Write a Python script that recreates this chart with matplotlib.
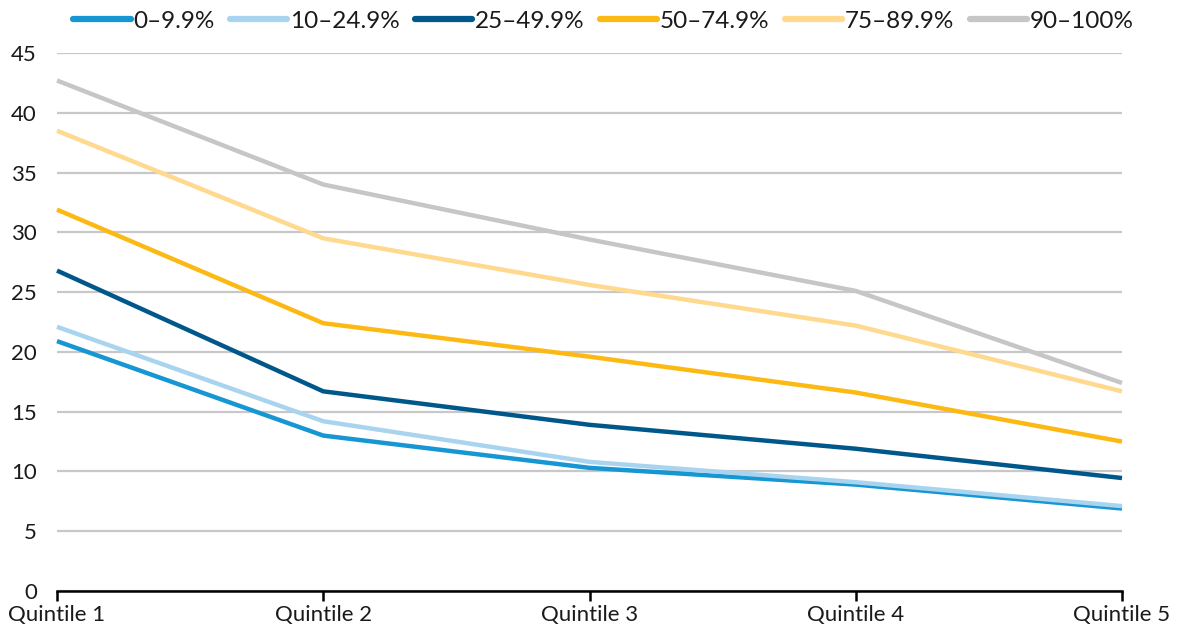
import matplotlib
matplotlib.use("Agg")
import matplotlib.pyplot as plt

categories = ["Quintile 1", "Quintile 2", "Quintile 3", "Quintile 4", "Quintile 5"]
series_names = ["0–9.9%", "10–24.9%", "25–49.9%", "50–74.9%", "75–89.9%", "90–100%"]
s0 = [20.9, 13.0, 10.3, 8.9, 6.9]
s1 = [22.1, 14.2, 10.8, 9.1, 7.1]
s2 = [26.8, 16.7, 13.9, 11.9, 9.45]
s3 = [31.9, 22.4, 19.6, 16.6, 12.5]
s4 = [38.5, 29.5, 25.6, 22.2, 16.7]
s5 = [42.7, 34.0, 29.4, 25.1, 17.4]
yticks = [0, 5, 10, 15, 20, 25, 30, 35, 40, 45]

colors = ["#1696d2", "#a9d4ef", "#00578a", "#fdb913", "#fed98e", "#c6c6c6"]

plt.rcParams['font.family'] = ['Lato', 'DejaVu Sans']

fig = plt.figure(figsize=(11.8, 6.35), dpi=100)
ax = fig.add_axes([57/1180, 44/635, (1122-57)/1180, (591-53)/635])

x = list(range(len(categories)))
for name, vals, c in zip(series_names, [s0, s1, s2, s3, s4, s5], colors):
    ax.plot(x, vals, color=c, lw=3.2, label=name, clip_on=False, solid_capstyle='butt', zorder=3)

ax.set_ylim(0, 45)
ax.set_xlim(0, len(categories) - 1)
ax.set_yticks(yticks)
ax.set_xticks(x)
ax.set_xticklabels(categories)
ax.yaxis.grid(True, color="#c8c8c8", lw=1.6)
ax.set_axisbelow(True)
for sp in ["top", "right", "left"]:
    ax.spines[sp].set_visible(False)
ax.spines["bottom"].set_color("black")
ax.spines["bottom"].set_linewidth(1.8)
ax.tick_params(axis="y", length=0, pad=14.5, labelsize=16)
ax.tick_params(axis="x", length=7, width=1.8, direction="out", pad=3, labelsize=16)
for lbl in ax.get_yticklabels() + ax.get_xticklabels():
    lbl.set_color("#1a1a1a")

leg = ax.legend(loc="center", bbox_to_anchor=(0.5 + 14 / 1065, 1.0 + (53 - 21) / 538), ncol=6, frameon=False,
                fontsize=17.5, handlelength=2.35, handletextpad=0.1, columnspacing=0.65, borderaxespad=0)
for h in leg.get_lines():
    h.set_linewidth(4.5)
    h.set_solid_capstyle('round')
for t in leg.get_texts():
    t.set_color("#1a1a1a")

fig.savefig("out.png", dpi=100)
